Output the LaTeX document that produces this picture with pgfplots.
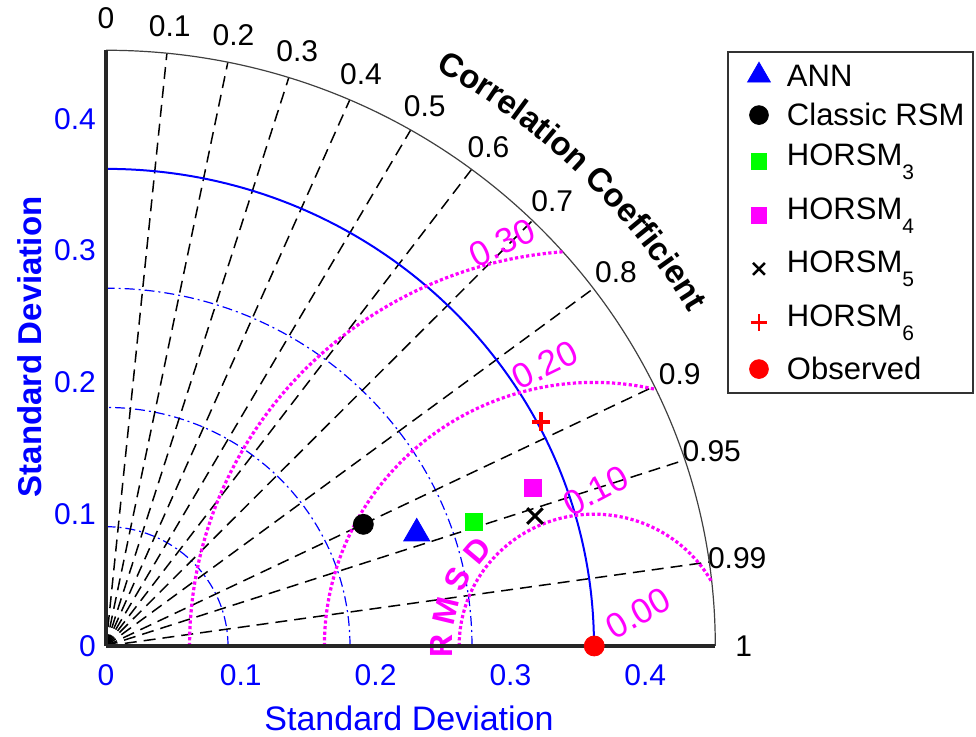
\documentclass[border=0pt]{standalone}
\usepackage{fontspec}
\setmainfont{Liberation Sans}
\usepackage{pgfplots}
\pgfplotsset{compat=1.18}
\usetikzlibrary{decorations.text}
\definecolor{tblue}{RGB}{0,0,255}
\definecolor{tmag}{RGB}{255,0,255}
\definecolor{tgreen}{RGB}{0,255,0}
\definecolor{tred}{RGB}{255,0,0}
\newcommand{\fs}[1]{\fontsize{#1}{#1}\selectfont}
\newcommand{\sub}[1]{\raisebox{-7pt}{\fs{10.5}#1}}
\begin{document}
\begin{tikzpicture}
\useasboundingbox (0,0) rectangle (488pt,368.5pt);
\begin{scope}[shift={(53pt,45.5pt)}, x=674pt, y=659pt]
  % standard deviation arcs
  \foreach \r in {0.0905,0.181,0.2715}{
    \draw[tblue, line width=0.6pt, dash pattern=on 5pt off 2pt on 1pt off 2pt] (\r,0) arc[start angle=0, end angle=90, radius=\r];
  }
  % correlation lines and labels
  \foreach \c in {0.1,0.2,0.3,0.4,0.5,0.6,0.7,0.8,0.9,0.95,0.99}{
    \pgfmathsetmacro\ang{acos(\c)}
    \draw[black, line width=0.75pt, dash pattern=on 6pt off 3.5pt] (0,0) -- (\ang:0.452);
    \node[font=\fs{15}] at (\ang:0.473) {\c};
  }
  \node[font=\fs{15}] at (90:0.476) {0};
  \node[font=\fs{15}] at (0:0.473) {1};
  % reference arc
  \draw[tblue, line width=1pt] (0.362,0) arc[start angle=0, end angle=90, radius=0.362];
  % outer arc
  \draw[black!75, line width=0.6pt] (0.452,0) arc[start angle=0, end angle=90, radius=0.452];
  % RMSD arcs
  \draw[tmag, line width=1.6pt, dash pattern=on 1.6pt off 1.2pt] (0.262,0) arc[start angle=180, end angle=29.1, radius=0.1];
  \draw[tmag, line width=1.6pt, dash pattern=on 1.6pt off 1.2pt] (0.162,0) arc[start angle=180, end angle=76.7, radius=0.2];
  \draw[tmag, line width=1.6pt, dash pattern=on 1.6pt off 1.2pt] (0.062,0) arc[start angle=180, end angle=94.4, radius=0.3];
  % RMSD labels
  \node[tmag, font=\fs{17.5}, rotate=29] at (0.3949,0.0248) {0.00};
  \node[tmag, font=\fs{17.5}, rotate=28] at (0.3632,0.1180) {0.10};
  \node[tmag, font=\fs{17.5}, rotate=26] at (0.3257,0.2132) {0.20};
  \node[tmag, font=\fs{17.5}, rotate=25] at (0.2938,0.3058) {0.30};
  \node[tmag, font=\bfseries\fs{16}, rotate=90]   at ([shift={(180:0.113)}]0.362,0) {R};
  \node[tmag, font=\bfseries\fs{16}, rotate=76.5] at ([shift={(166.5:0.113)}]0.362,0) {M};
  \node[tmag, font=\bfseries\fs{16}, rotate=63.4] at ([shift={(153.4:0.113)}]0.362,0) {S};
  \node[tmag, font=\bfseries\fs{16}, rotate=50]   at ([shift={(140:0.113)}]0.362,0) {D};
  % correlation title
  \path[decorate, decoration={text along path, text align=center,
     text={|\bfseries\fs{16.5}|Correlation Coefficient}}]
     (67.5:0.501) arc[start angle=67.5, end angle=23.5, radius=0.501];
  % axis labels
  \node[tblue, font=\fs{17}] at (0.2248,-0.0546) {Standard Deviation};
  \node[tblue, font=\bfseries\fs{16.5}, rotate=90] at (-0.0564,0.2269) {Standard Deviation};
\end{scope}
\begin{axis}[at={(53pt,45.5pt)}, anchor=south west, x=674pt, y=659pt,
  xmin=0, xmax=0.452, ymin=0, ymax=0.452,
  axis x line=bottom, axis y line=left,
  axis line style={-, line width=2pt, black!85},
  xtick={0,0.1,0.2,0.3,0.4}, ytick={0,0.1,0.2,0.3,0.4},
  major tick length=0pt,
  tick label style={font=\fs{15}, text=tblue},
  /pgf/number format/assume math mode=true,
  xticklabel style={yshift=-5.5pt},
  yticklabel style={xshift=-1.5pt},
  clip=false,
  legend cell align=left,
  legend image code/.code={\path (-12pt,0) (12pt,0); \draw[mark repeat=2,mark phase=2] plot coordinates {(-12pt,0pt) (0pt,0pt) (12pt,0pt)};},
  legend style={at={(axis description cs:1.0192,0.9993)}, anchor=north west,
     draw=black!80, line width=1pt, font=\fs{15.5}, inner xsep=3pt, inner ysep=2pt,
     nodes={inner xsep=1.5pt, inner ysep=4.5pt, text height=10.8pt, text depth=0pt},
     /tikz/every even column/.append style={column sep=0pt}},
]
\addplot[only marks, mark=triangle*, mark size=7.5pt, color=tblue, mark options={line width=0.4pt}, legend image post style={mark size=6.6pt}] coordinates {(0.2305,0.0854)};
\addlegendentry{ANN}
\addplot[only marks, mark=*, mark size=5pt, color=black, mark options={line width=0.4pt}, legend image post style={mark size=4.7pt}] coordinates {(0.1909,0.0923)};
\addlegendentry{Classic RSM}
\addplot[only marks, mark=square*, mark size=4.3pt, color=tgreen, mark options={line width=0.4pt}, legend image post style={mark size=3.9pt}] coordinates {(0.2730,0.0939)};
\addlegendentry[text depth=7pt]{HORSM\sub{3}}
\addplot[only marks, mark=square*, mark size=4.3pt, color=tmag, mark options={line width=0.4pt}, legend image post style={mark size=3.9pt}] coordinates {(0.3165,0.1201)};
\addlegendentry[text depth=7pt]{HORSM\sub{4}}
\addplot[only marks, mark=x, mark size=5.5pt, color=black, mark options={line width=1.5pt}, legend image post style={mark size=4.2pt, mark options={line width=1.2pt}}] coordinates {(0.3182,0.0986)};
\addlegendentry[text depth=7pt]{HORSM\sub{5}}
\addplot[only marks, mark=+, mark size=4.6pt, color=tred, mark options={line width=2pt}, legend image post style={mark size=4.2pt, mark options={line width=1.2pt}}] coordinates {(0.3225,0.1702)};
\addlegendentry[text depth=7pt]{HORSM\sub{6}}
\addplot[only marks, mark=*, mark size=5pt, color=tred, mark options={line width=0.4pt}, legend image post style={mark size=4.7pt}] coordinates {(0.3622,0)};
\addlegendentry{Observed}
\end{axis}
\end{tikzpicture}
\end{document}
